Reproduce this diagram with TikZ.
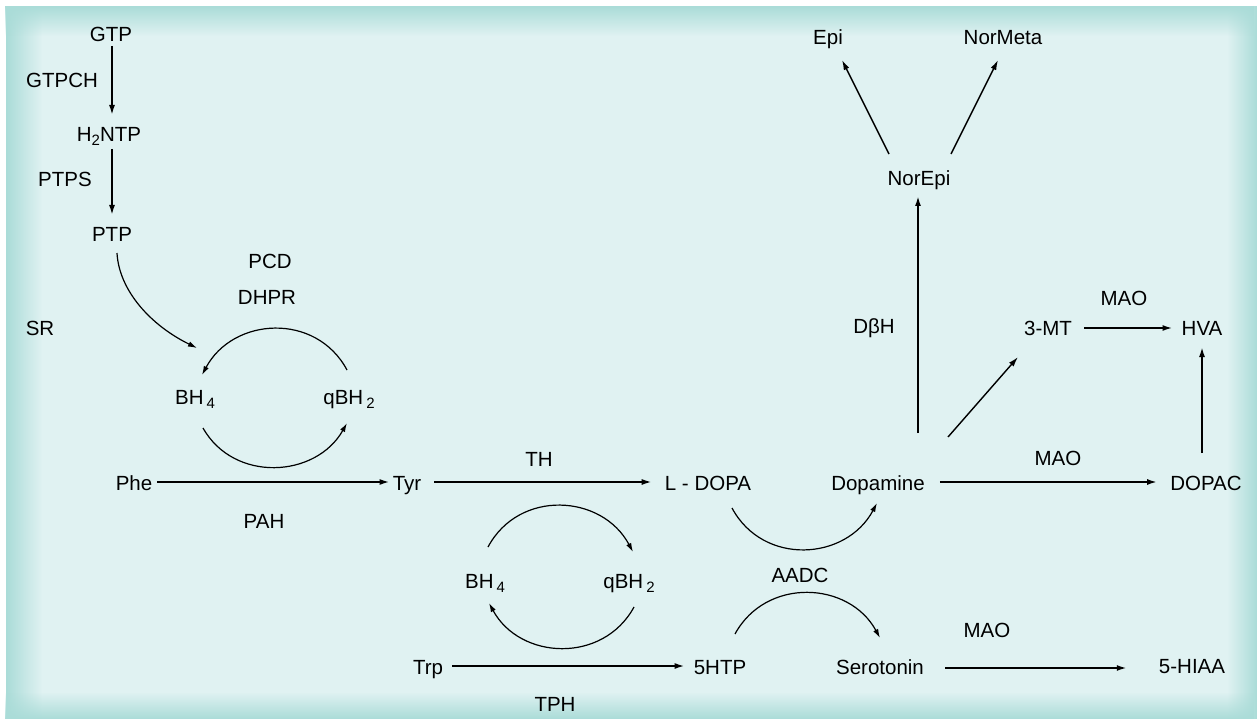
\documentclass[tikz,border=0pt]{standalone}
\usepackage{fontspec}
\setmainfont{Liberation Sans}
\usetikzlibrary{arrows.meta,calc,fadings}
\definecolor{bginner}{RGB}{224,242,242}
\definecolor{bgedge}{RGB}{170,220,216}
\tikzfading[name=fadeR, left color=transparent!0, right color=transparent!100]
\tikzfading[name=fadeL, left color=transparent!100, right color=transparent!0]
\tikzfading[name=fadeD, top color=transparent!0, bottom color=transparent!100]
\tikzfading[name=fadeU, top color=transparent!100, bottom color=transparent!0]
\newcommand\chemsub[1]{\raisebox{-4pt}{\fontsize{15}{15}\selectfont #1}}
\tikzset{
  lbl/.style={anchor=base, inner sep=0pt, font=\fontsize{20.5}{24}\selectfont},
  arr/.style={-{Latex[length=10pt,width=6pt]}, line width=1.8pt},
  carr/.style={-{Latex[length=9pt,width=5.5pt]}, line width=1.2pt},
  darr/.style={-{Latex[length=10pt,width=6pt]}, line width=1.4pt},
}
\begin{document}
\begin{tikzpicture}[x=1pt,y=-1pt]
\useasboundingbox (0,0) rectangle (1257,719);
% background panel
\fill[bginner] (6,6) rectangle (1257,719);
\fill[bgedge, path fading=fadeR] (6,6) rectangle (42,719);
\fill[bgedge, path fading=fadeL] (1227,6) rectangle (1257,719);
\fill[bgedge, path fading=fadeD] (6,6) rectangle (1257,36);
\fill[bgedge, path fading=fadeU] (6,692) rectangle (1257,719);

% labels
\node[lbl] (GTP) at (111,42) {GTP};
\node[lbl] (GTPCH) at (62,88) {GTPCH};
\node[lbl] (H2NTP) at (109,142) {H\chemsub{2}NTP};
\node[lbl] (PTPS) at (65,187) {PTPS};
\node[lbl] (PTP) at (112,242) {PTP};
\node[lbl] (SR) at (40,335) {SR};
\node[lbl] (PCD) at (270,269) {PCD};
\node[lbl] (DHPR) at (267,304) {DHPR};
\node[lbl] (BH4a) at (195,404) {BH\kern3pt\chemsub{4}};
\node[lbl] (qBH2a) at (349,404) {qBH\kern3pt\chemsub{2}};
\node[lbl] (Phe) at (134,490) {Phe};
\node[lbl] (PAH) at (264,528) {PAH};
\node[lbl] (Tyr) at (407,490) {Tyr};
\node[lbl] (TH) at (539,466) {TH};
\node[lbl] (LDOPA) at (708,490) {L - DOPA};
\node[lbl] (Dopamine) at (878,490) {Dopamine};
\node[lbl] (MAOa) at (1058,465) {MAO};
\node[lbl] (DOPAC) at (1206,490) {DOPAC};
\node[lbl] (BH4b) at (485,588) {BH\kern3pt\chemsub{4}};
\node[lbl] (qBH2b) at (629,588) {qBH\kern3pt\chemsub{2}};
\node[lbl] (AADC) at (800,582) {AADC};
\node[lbl] (Trp) at (428,674) {Trp};
\node[lbl] (HTP) at (720,674) {5HTP};
\node[lbl] (TPH) at (555,711) {TPH};
\node[lbl] (Serotonin) at (880,674) {Serotonin};
\node[lbl] (MAOb) at (987,637) {MAO};
\node[lbl] (HIAA) at (1192,673) {5-HIAA};
\node[lbl] (DbH) at (874,333) {DβH};
\node[lbl] (MT) at (1048,335) {3-MT};
\node[lbl] (HVA) at (1202,335) {HVA};
\node[lbl] (MAOc) at (1124,305) {MAO};
\node[lbl] (NorEpi) at (919,186) {NorEpi};
\node[lbl] (Epi) at (828,45) {Epi};
\node[lbl] (NorMeta) at (1003,45) {NorMeta};

% straight connectors
\draw[arr] ($(GTP.base)+(1,4)$) -- ($(GTP.base |- H2NTP.base)+(1,-27)$);
\draw[arr] ($(H2NTP.base)+(3,7)$) -- ($(H2NTP.base |- PTP.base)+(3,-27)$);
\draw[arr] ($(Phe.base east)+(5,-8)$) -- ($(Tyr.base west)+(-3,-8)$);
\draw[arr] ($(Tyr.base east)+(13,-8)$) -- ($(LDOPA.base west)+(-13,-8)$);
\draw[arr] ($(Dopamine.base east)+(15,-8)$) -- ($(DOPAC.base west)+(-13,-8)$);
\draw[arr] ($(MT.base east)+(12,-7)$) -- ($(HVA.base west)+(-9,-7)$);
\draw[arr] ($(Trp.base east)+(9,-8)$) -- ($(HTP.base west)+(-9,-8)$);
\draw[arr] ($(Serotonin.base east)+(21,-6)$) -- ($(HIAA.base west)+(-32,-5)$);
\draw[arr] ($(NorEpi.base |- Dopamine.base)+(-1,-57)$) -- ($(NorEpi.base)+(-1,10)$);
\draw[arr] ($(HVA.base |- DOPAC.base)+(0,-37)$) -- ($(HVA.base)+(0,12)$);
\draw[darr] ($(Dopamine.base)+(70,-53)$) -- ($(MT.base)+(-30,22)$);
\draw[darr] ($(NorEpi.base)+(-30,-32)$) -- ($(Epi.base)+(14,15)$);
\draw[darr] ($(NorEpi.base)+(32,-32)$) -- ($(NorMeta.base)+(-5,15)$);

% curved connectors
\draw[carr] ($(PTP.base)+(5,11)$) .. controls +(2,37) and +(-47,-23) .. ($(BH4a.base)+(2,-56)$);
\draw[carr] ($(qBH2a.base)+(-2,-34)$) .. controls +(-31,-58) and +(31,-58) .. ($(BH4a.base)+(7,-29)$);
\draw[carr] ($(BH4a.base)+(8,24)$) .. controls +(31,55) and +(-31,55) .. ($(qBH2a.base)+(-2,19)$);
\draw[carr] ($(BH4b.base)+(3,-41)$) .. controls +(31,-58) and +(-31,-58) .. ($(qBH2b.base)+(4,-36)$);
\draw[carr] ($(qBH2b.base)+(5,19)$) .. controls +(-31,57) and +(31,57) .. ($(BH4b.base)+(4,15)$);
\draw[carr] ($(LDOPA.base)+(24,18)$) .. controls +(31,58) and +(-31,58) .. ($(Dopamine.base)+(-1,13)$);
\draw[carr] ($(HTP.base)+(15,-40)$) .. controls +(31,-57) and +(-31,-57) .. ($(Serotonin.base)+(0,-36)$);
\end{tikzpicture}
\end{document}
